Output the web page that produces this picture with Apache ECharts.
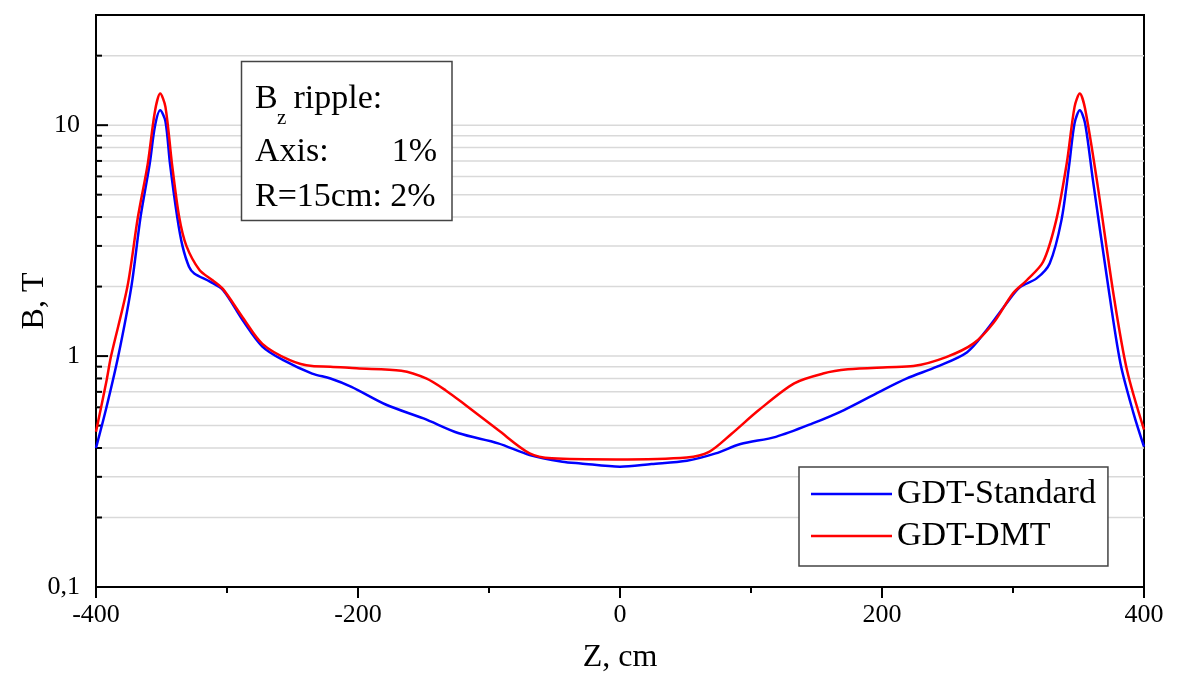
<!DOCTYPE html>
<html>
<head>
<meta charset="utf-8">
<script src="https://cdn.jsdelivr.net/npm/echarts@6/dist/echarts.min.js"></script>
<style>
html,body{margin:0;padding:0;background:#fff;}
#chart{width:1178px;height:678px;}
</style>
</head>
<body>
<div id="chart"></div>
<script>
// ---- data ----
const zStandard = [-400,-392,-383,-373,-366,-359,-355,-351,-347,-343.5,-338,-334,-329,-325,-313,-303,-288,-273,-257,-235,-221,-205,-178,-150,-123,-93,-69,-44,-30,0,24,51,73,92,119,147,171,198,219,242,265,280,295,305,318,328,337,343,347,351,355,361,372,382,392,400];
const bStandard = [0.40,0.60,1.0,2.0,4.0,6.8,9.9,11.6,10.4,6.8,4.0,3.0,2.44,2.28,2.10,1.93,1.43,1.10,0.96,0.84,0.80,0.736,0.614,0.537,0.463,0.419,0.373,0.349,0.343,0.332,0.341,0.352,0.379,0.416,0.447,0.511,0.584,0.70,0.80,0.90,1.04,1.30,1.69,1.98,2.17,2.52,3.88,6.8,10.2,11.6,10.2,5.78,2.13,0.93,0.565,0.405];

const zDMT = [-400,-392,-388.5,-376,-368,-360.5,-355,-351,-347,-342,-336.5,-331,-321,-311,-303,-288,-273,-252,-235,-221,-201,-167,-148,-133,-118,-93,-69,-52,-3,51,68,85,106,133,155,174,204,224,249,270,285,300,310.5,323,333,341,347,351,355,364,377,387,400];
const bDMT = [0.47,0.78,1.0,2.0,4.0,6.8,11.5,13.7,12.0,6.8,4.0,3.0,2.36,2.13,1.95,1.47,1.13,0.96,0.905,0.90,0.885,0.864,0.80,0.71,0.614,0.478,0.379,0.361,0.357,0.364,0.385,0.46,0.584,0.762,0.84,0.876,0.895,0.905,0.99,1.135,1.39,1.87,2.13,2.56,3.88,6.82,12.0,13.7,11.8,5.78,1.81,0.87,0.48];

const seriesNames = ['GDT-Standard', 'GDT-DMT'];
const yMajorTicks = [1, 10];
const yMinorTicks = [0.2,0.3,0.4,0.5,0.6,0.7,0.8,0.9,2,3,4,5,6,7,8,9,20];
const yTickLabels = {'0.1': '0,1', '1': '1', '10': '10'};
const xName = 'Z, cm';
const yName = 'B, T';
const noteLines = ['B', 'z', ' ripple:', 'Axis:', '1%', 'R=15cm: 2%'];

const FONT = 'Liberation Serif';
const zip = (xs, ys) => xs.map((x, i) => [x, ys[i]]);
// baseline -> middle anchor for text of given size
const mid = (baseline, fs) => baseline - 0.2 * fs;

const tickData = yMajorTicks.map(v => [-400, v, 1]).concat(yMinorTicks.map(v => [-400, v, 0]));

function noteText(x, baseline, fs, text, align) {
  return {
    type: 'text', x: x, y: mid(baseline, fs), z: 101,
    style: {text: text, fontFamily: FONT, fontSize: fs, fill: '#000', align: align || 'left', verticalAlign: 'middle'}
  };
}

const chart = echarts.init(document.getElementById('chart'), null, {renderer: 'canvas'});
chart.setOption({
  backgroundColor: '#fff',
  animation: false,
  grid: {
    left: 96, right: 34, top: 15, bottom: 91,
    show: true, borderColor: '#000', borderWidth: 2, backgroundColor: 'transparent',
    outerBoundsMode: 'none', containLabel: false
  },
  xAxis: {
    type: 'value', min: -400, max: 400, interval: 200,
    name: xName, nameLocation: 'middle', nameGap: 55, nameMoveOverlap: false,
    nameTextStyle: {fontFamily: FONT, fontSize: 32, color: '#000'},
    axisLine: {show: true, onZero: false, lineStyle: {color: '#000', width: 2}},
    axisTick: {show: true, inside: false, length: 11, lineStyle: {color: '#000', width: 2}},
    minorTick: {show: true, splitNumber: 2, length: 6, lineStyle: {color: '#000', width: 2}},
    axisLabel: {fontFamily: FONT, fontSize: 26, color: '#000', margin: 15},
    splitLine: {show: false},
    minorSplitLine: {show: false}
  },
  yAxis: {
    type: 'log', logBase: 10, min: 0.1, max: 30,
    name: yName, nameLocation: 'middle', nameGap: 45, nameRotate: 90, nameMoveOverlap: false,
    nameTextStyle: {fontFamily: FONT, fontSize: 32, color: '#000'},
    axisLine: {show: true, onZero: false, lineStyle: {color: '#000', width: 2}},
    axisTick: {show: false},
    axisLabel: {
      fontFamily: FONT, fontSize: 26, color: '#000', margin: 16,
      showMaxLabel: false,
      formatter: function (v) {
        for (const k in yTickLabels) {
          if (Math.abs(Math.log10(v) - Math.log10(parseFloat(k))) < 1e-6) return yTickLabels[k];
        }
        return '';
      }
    },
    splitLine: {show: false}
  },
  legend: {
    data: seriesNames.map(n => ({name: n, icon: 'rect'})),
    orient: 'vertical',
    left: 799, top: 467,
    padding: [10, 12, 13, 12],
    itemWidth: 81, itemHeight: 2.5, itemGap: 8,
    backgroundColor: '#fff', borderColor: '#444', borderWidth: 1.5, borderRadius: 0,
    textStyle: {fontFamily: FONT, fontSize: 34, color: '#000'},
    selectedMode: false
  },
  graphic: [
    {type: 'rect', z: 100, shape: {x: 241.5, y: 61.5, width: 210.5, height: 159}, style: {fill: '#fff', stroke: '#444', lineWidth: 1.5}},
    noteText(255, 105.5, 34, noteLines[0]),
    noteText(277, 122.5, 21, noteLines[1]),
    noteText(285, 105.5, 34, noteLines[2]),
    noteText(255, 158.5, 34, noteLines[3]),
    noteText(437, 158.5, 34, noteLines[4], 'right'),
    noteText(255, 203.5, 34, noteLines[5])
  ],
  series: [
    {
      type: 'custom', name: 'yticks', z: 1, silent: true,
      encode: {x: 0, y: 1},
      data: tickData,
      renderItem: function (params, api) {
        const v = api.value(1);
        const major = api.value(2) === 1;
        const pt = api.coord([-400, v]);
        const cs = params.coordSys;
        return {
          type: 'group',
          children: [
            {type: 'line', shape: {x1: cs.x, y1: pt[1], x2: cs.x + cs.width, y2: pt[1]}, style: {stroke: '#d9d9d9', lineWidth: 1.5}},
            {type: 'line', shape: {x1: cs.x, y1: pt[1], x2: cs.x + (major ? 12 : 6), y2: pt[1]}, style: {stroke: '#000', lineWidth: 2}}
          ]
        };
      }
    },
    {
      type: 'line', name: seriesNames[0], data: zip(zStandard, bStandard),
      symbol: 'none', smooth: 0.3, z: 3,
      lineStyle: {color: '#0000ff', width: 2.5}, itemStyle: {color: '#0000ff'}
    },
    {
      type: 'line', name: seriesNames[1], data: zip(zDMT, bDMT),
      symbol: 'none', smooth: 0.3, z: 3,
      lineStyle: {color: '#ff0000', width: 2.5}, itemStyle: {color: '#ff0000'}
    }
  ]
});
</script>
</body>
</html>
